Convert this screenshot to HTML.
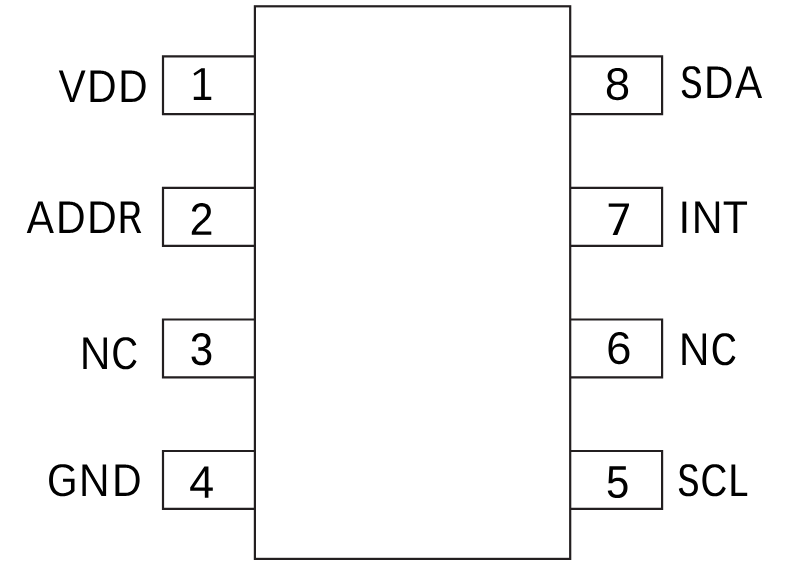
<!DOCTYPE html>
<html><head><meta charset="utf-8"><title>Pinout</title>
<style>
html,body{margin:0;padding:0;background:#fff;font-family:"Liberation Sans",sans-serif;}
svg{display:block;}
.ln *{fill:none;stroke:#231f20;stroke-width:2.2;stroke-linejoin:miter;}
.tx path{fill:#000;fill-rule:evenodd;}
.lbl text{font-family:"Liberation Sans",sans-serif;font-size:45.5px;fill:none;stroke:none;}
</style></head>
<body>
<svg width="788" height="566" viewBox="0 0 788 566">
<rect x="0" y="0" width="788" height="566" fill="#fff"/>
<g class="ln">
<rect x="254.9" y="6.3" width="315.30" height="552.60"/>
<path d="M254.9 56.3 H163.0 V114.20 H254.9"/>
<path d="M570.2 56.3 H662.1 V114.20 H570.2"/>
<path d="M254.9 187.9 H163.0 V245.80 H254.9"/>
<path d="M570.2 187.9 H662.1 V245.80 H570.2"/>
<path d="M254.9 319.5 H163.0 V377.40 H254.9"/>
<path d="M570.2 319.5 H662.1 V377.40 H570.2"/>
<path d="M254.9 451.0 H163.0 V508.90 H254.9"/>
<path d="M570.2 451.0 H662.1 V508.90 H570.2"/>
</g>
<g class="tx">
<path d="M74.14 101.9 85.5 70.6 81.59 70.6 73.84 92.89 72.17 98.45 70.5 92.89 62.71 70.6 58.8 70.6 70.16 101.9Z"/>
<path d="M100.97 101.9 101.97 101.87 102.94 101.78 103.88 101.63 104.79 101.41 105.67 101.14 106.52 100.8 106.93 100.61 107.73 100.18 108.51 99.69 109.24 99.15 109.92 98.56 110.25 98.24 110.57 97.91 111.17 97.2 111.72 96.45 112.23 95.63 112.7 94.77 113.12 93.85 113.49 92.9 113.8 91.9 114.07 90.87 114.18 90.34 114.36 89.25 114.5 88.12 114.58 86.95 114.6 85.96 114.59 85.19 114.54 84.3 114.47 83.43 114.36 82.6 114.22 81.79 114.06 81 113.86 80.25 113.64 79.52 113.38 78.81 113.09 78.14 112.78 77.49 112.43 76.86 112.05 76.26 111.64 75.69 111.21 75.15 110.74 74.63 110.24 74.14 109.72 73.69 109.17 73.26 108.6 72.87 108 72.51 107.38 72.18 106.73 71.88 106.06 71.61 105.36 71.37 104.64 71.17 103.89 70.99 103.11 70.85 102.31 70.74 101.49 70.66 100.64 70.62 99.76 70.6 90.5 70.6 90.5 101.9ZM94.3 73.68 99.68 73.68 100.35 73.69 100.99 73.73 101.62 73.79 102.22 73.88 102.81 73.98 103.37 74.12 103.92 74.27 104.45 74.45 104.95 74.66 105.44 74.89 105.9 75.14 106.35 75.42 106.78 75.72 107.18 76.05 107.57 76.4 107.94 76.77 108.28 77.17 108.6 77.59 108.9 78.03 109.18 78.49 109.44 78.98 109.67 79.48 109.89 80.01 110.07 80.56 110.24 81.13 110.39 81.73 110.51 82.34 110.61 82.98 110.69 83.64 110.78 85.02 110.79 86.1 110.77 87.06 110.67 88.44 110.47 89.75 110.2 90.99 109.83 92.15 109.69 92.52 109.37 93.24 109.03 93.92 108.84 94.24 108.44 94.85 108.01 95.43 107.55 95.95 107.3 96.2 107.05 96.44 106.52 96.89 106.24 97.09 105.65 97.47 105.05 97.81 104.42 98.1 103.76 98.33 103.09 98.52 102.39 98.67 101.66 98.76 101.29 98.79 100.53 98.82 94.3 98.82Z"/>
<path d="M132.04 101.9 133.03 101.87 134 101.78 134.93 101.63 135.84 101.41 136.71 101.14 137.56 100.8 137.97 100.61 138.77 100.18 139.54 99.69 140.26 99.15 140.61 98.86 141.27 98.24 141.89 97.56 142.18 97.2 142.73 96.45 143.24 95.63 143.7 94.77 144.12 93.85 144.49 92.9 144.81 91.9 144.94 91.39 145.18 90.34 145.36 89.25 145.49 88.12 145.57 86.95 145.6 85.96 145.58 85.19 145.54 84.3 145.46 83.43 145.36 82.6 145.22 81.79 145.06 81 144.86 80.25 144.64 79.52 144.38 78.81 144.1 78.14 143.78 77.49 143.44 76.86 143.06 76.26 142.66 75.69 142.22 75.15 141.76 74.63 141.26 74.14 140.74 73.69 140.2 73.26 139.63 72.87 139.04 72.51 138.42 72.18 137.77 71.88 137.1 71.61 136.41 71.37 135.69 71.17 134.94 70.99 134.17 70.85 133.38 70.74 132.55 70.66 131.71 70.62 130.84 70.6 121.6 70.6 121.6 101.9ZM132.04 73.73 132.66 73.79 133.26 73.88 133.84 73.98 134.41 74.12 134.95 74.27 135.47 74.45 135.98 74.66 136.46 74.89 136.92 75.14 137.37 75.42 137.79 75.72 138.2 76.05 138.58 76.4 138.94 76.77 139.29 77.17 139.61 77.59 139.91 78.03 140.18 78.49 140.44 78.98 140.67 79.48 140.88 80.01 141.07 80.56 141.24 81.13 141.38 81.73 141.5 82.34 141.6 82.98 141.68 83.64 141.74 84.32 141.77 85.02 141.78 86.1 141.76 87.06 141.7 87.99 141.61 88.89 141.47 89.75 141.19 90.99 140.83 92.15 140.69 92.52 140.38 93.24 140.21 93.58 139.85 94.24 139.65 94.55 139.24 95.14 139.02 95.43 138.56 95.95 138.06 96.44 137.8 96.67 137.53 96.89 136.97 97.29 136.38 97.65 136.07 97.81 135.76 97.96 135.12 98.22 134.46 98.44 134.12 98.52 133.42 98.67 132.7 98.76 132.34 98.79 131.58 98.82 125.4 98.82 125.4 73.68 130.73 73.68 131.39 73.69Z"/>
<path d="M47.18 224.68 50.06 232.9 53.85 232.9 42.57 201.6 38.21 201.6 26.75 232.9 30.6 232.9 33.5 224.68ZM38.66 209.89 39.53 207.24 40.33 204.48 40.34 204.5 40.34 204.48 41.1 207.06 41.59 208.63 46.07 221.46 45.95 221.46 46.07 221.82 34.62 221.82 34.75 221.46 34.62 221.46Z"/>
<path d="M70.91 232.87 71.88 232.78 72.83 232.63 73.29 232.53 74.18 232.28 75.05 231.98 75.89 231.61 76.7 231.18 77.48 230.69 78.21 230.15 78.9 229.56 79.23 229.24 79.85 228.56 80.43 227.83 80.7 227.45 81.22 226.63 81.69 225.77 82.11 224.85 82.48 223.9 82.8 222.9 83.06 221.87 83.18 221.34 83.36 220.25 83.49 219.12 83.57 217.95 83.6 216.96 83.58 216.19 83.54 215.3 83.46 214.43 83.36 213.6 83.22 212.79 83.05 212 82.86 211.25 82.63 210.52 82.37 209.81 82.08 209.14 81.76 208.49 81.42 207.86 81.04 207.26 80.63 206.69 80.19 206.15 79.72 205.63 79.22 205.14 78.7 204.69 78.15 204.26 77.57 203.87 76.97 203.51 76.35 203.18 75.7 202.88 75.02 202.61 74.32 202.37 73.59 202.17 72.84 201.99 72.06 201.85 71.25 201.74 70.42 201.66 69.57 201.62 68.69 201.6 59.4 201.6 59.4 232.9 69.91 232.9ZM63.2 204.68 69.29 204.69 69.94 204.73 70.57 204.79 71.18 204.88 71.76 204.98 72.33 205.12 72.88 205.27 73.41 205.45 73.92 205.66 74.41 205.89 74.87 206.14 75.32 206.42 75.75 206.72 76.16 207.05 76.55 207.4 76.92 207.77 77.26 208.17 77.59 208.59 77.89 209.03 78.17 209.49 78.43 209.98 78.66 210.48 78.87 211.01 79.06 211.56 79.23 212.13 79.38 212.73 79.5 213.34 79.6 213.98 79.68 214.64 79.74 215.32 79.77 216.02 79.78 217.59 79.74 218.53 79.66 219.44 79.54 220.32 79.38 221.17 79.07 222.38 78.67 223.52 78.52 223.89 78.19 224.58 77.83 225.24 77.43 225.85 77.21 226.14 76.76 226.69 76.28 227.2 76.02 227.44 75.49 227.89 75.21 228.09 74.92 228.29 74.32 228.65 74.01 228.81 73.38 229.1 73.06 229.22 72.39 229.44 71.7 229.6 70.98 229.72 70.61 229.76 69.86 229.81 69.48 229.82 63.2 229.82Z"/>
<path d="M102.01 232.87 102.98 232.78 103.93 232.63 104.84 232.41 105.28 232.28 106.15 231.98 106.99 231.61 107.8 231.18 108.58 230.69 109.31 230.15 110 229.56 110.33 229.24 110.95 228.56 111.53 227.83 112.07 227.05 112.32 226.63 112.79 225.77 113.21 224.85 113.58 223.9 113.9 222.9 114.16 221.87 114.38 220.8 114.53 219.69 114.59 219.12 114.67 217.95 114.7 216.96 114.68 216.19 114.64 215.3 114.56 214.43 114.46 213.6 114.32 212.79 114.15 212 113.96 211.25 113.73 210.52 113.47 209.81 113.18 209.14 112.86 208.49 112.52 207.86 112.14 207.26 111.73 206.69 111.29 206.15 110.82 205.63 110.32 205.14 109.8 204.69 109.25 204.26 108.67 203.87 108.07 203.51 107.45 203.18 106.8 202.88 106.12 202.61 105.42 202.37 104.69 202.17 103.94 201.99 103.16 201.85 102.35 201.74 101.52 201.66 100.67 201.62 99.79 201.6 90.5 201.6 90.5 232.9 101.01 232.9ZM94.3 204.68 100.39 204.69 101.04 204.73 101.67 204.79 102.28 204.88 102.86 204.98 103.43 205.12 103.98 205.27 104.51 205.45 105.02 205.66 105.51 205.89 105.97 206.14 106.42 206.42 106.85 206.72 107.26 207.05 107.65 207.4 108.02 207.77 108.36 208.17 108.69 208.59 108.99 209.03 109.27 209.49 109.53 209.98 109.76 210.48 109.97 211.01 110.16 211.56 110.33 212.13 110.48 212.73 110.6 213.34 110.7 213.98 110.78 214.64 110.84 215.32 110.87 216.02 110.88 217.59 110.84 218.53 110.76 219.44 110.64 220.32 110.48 221.17 110.17 222.38 109.77 223.52 109.62 223.89 109.29 224.58 108.93 225.24 108.53 225.85 108.09 226.43 107.86 226.69 107.63 226.95 107.12 227.44 106.59 227.89 106.31 228.09 106.02 228.29 105.42 228.65 105.11 228.81 104.48 229.1 104.16 229.22 103.49 229.44 102.8 229.6 102.44 229.67 101.71 229.76 100.96 229.81 100.58 229.82 94.3 229.82Z"/>
<path d="M137.16 232.9 141.3 232.9 134.46 218.43 134.61 218.38 134.46 218.07 135.04 217.88 135.32 217.77 135.59 217.64 136.11 217.35 136.35 217.19 136.82 216.83 137.04 216.64 137.45 216.21 137.84 215.73 138.02 215.48 138.35 214.93 138.5 214.64 138.64 214.35 138.89 213.73 139.1 213.09 139.33 212.05 139.47 210.94 139.51 209.95 139.49 209.15 139.45 208.69 139.33 207.81 139.24 207.38 139.03 206.58 138.75 205.83 138.42 205.13 138.02 204.48 137.57 203.88 137.06 203.35 136.51 202.88 135.91 202.49 135.28 202.17 134.61 201.92 133.89 201.74 133.13 201.64 132.33 201.6 120.7 201.6 120.7 232.9 124.53 232.9 124.53 218.63 130.98 218.63ZM131.82 204.7 132.27 204.76 132.91 204.93 133.49 205.19 134.02 205.54 134.5 205.99 134.78 206.33 134.91 206.52 135.03 206.71 135.24 207.13 135.4 207.59 135.59 208.35 135.69 209.19 135.71 210.16 135.66 211.11 135.54 211.99 135.33 212.78 135.14 213.27 134.92 213.72 134.79 213.93 134.51 214.33 134.19 214.68 134.02 214.84 133.66 215.13 133.27 215.36 132.85 215.55 132.63 215.63 132.17 215.75 131.67 215.82 131.15 215.84 124.53 215.84 124.53 204.68 131.34 204.68Z"/>
<path d="M86.51 341.94 86.69 342.26 86.67 341.94 102.34 368.9 106.95 368.9 106.95 337.6 103.54 337.6 103.55 358.26 103.61 360.59 103.79 364.38 103.77 364.35 103.79 364.74 103.61 364.42 103.63 364.74 87.79 337.6 83.35 337.6 83.35 368.9 86.71 368.9 86.71 348.23 86.61 344.47 86.51 342.3 86.52 342.33Z"/>
<path d="M117.18 354 117.18 352.2 117.25 350.81 117.39 349.49 117.49 348.86 117.61 348.26 117.89 347.1 118.25 346.02 118.46 345.51 118.68 345.02 118.92 344.54 119.18 344.09 119.46 343.66 119.75 343.25 120.06 342.87 120.38 342.51 120.72 342.18 121.07 341.88 121.44 341.6 121.82 341.35 122.21 341.12 122.62 340.93 123.04 340.75 123.48 340.61 123.93 340.49 124.39 340.4 124.87 340.33 125.37 340.29 125.75 340.28 126.69 340.37 127 340.42 127.59 340.56 128.15 340.74 128.7 340.97 128.96 341.1 129.22 341.24 129.72 341.56 130.2 341.93 130.43 342.12 130.86 342.55 131.25 343.02 131.44 343.27 131.78 343.79 132.1 344.36 132.51 345.29 132.74 345.96 133.14 345.8 133.19 345.96 136.28 344.66 135.86 343.58 135.46 342.73 135.02 341.93 134.53 341.2 133.99 340.53 133.42 339.91 132.8 339.36 132.47 339.11 131.78 338.64 131.06 338.24 130.29 337.9 129.89 337.75 129.06 337.51 128.19 337.32 127.28 337.2 126.33 337.14 125.39 337.13 124.69 337.14 124.01 337.2 123.35 337.28 122.71 337.4 122.08 337.55 121.48 337.73 120.9 337.95 120.33 338.2 119.79 338.49 119.26 338.8 118.75 339.16 118.26 339.54 117.8 339.96 117.35 340.41 116.92 340.9 116.51 341.42 116.12 341.97 115.75 342.54 115.42 343.14 115.1 343.77 114.81 344.42 114.55 345.1 114.31 345.8 114.1 346.53 113.91 347.28 113.75 348.06 113.61 348.87 113.5 349.7 113.41 350.56 113.35 351.44 113.31 352.35 113.3 353.55 113.35 354.77 113.44 355.95 113.57 357.09 113.75 358.18 113.98 359.23 114.25 360.24 114.56 361.21 114.92 362.13 115.11 362.57 115.53 363.42 116 364.21 116.5 364.95 117.04 365.63 117.62 366.26 118.25 366.84 118.91 367.36 119.61 367.83 120.35 368.23 121.11 368.57 121.91 368.85 122.32 368.97 123.16 369.16 124.04 369.28 124.94 369.34 126.31 369.34 127.2 369.27 128.06 369.14 128.9 368.94 129.7 368.67 130.48 368.34 131.23 367.94 131.59 367.72 132.3 367.22 132.98 366.65 133.61 366.03 134.21 365.34 134.77 364.59 135.29 363.78 135.53 363.36 135.99 362.46 136.5 361.28 133.86 359.59 133.76 359.82 133.41 359.59 133.07 360.39 132.71 361.14 132.33 361.83 131.94 362.47 131.52 363.07 131.08 363.61 130.62 364.09 130.14 364.53 129.64 364.92 129.12 365.25 128.57 365.53 128.01 365.77 127.43 365.95 126.83 366.07 126.21 366.15 125.51 366.16 125.02 366.12 124.55 366.05 124.09 365.96 123.64 365.83 123.2 365.68 122.78 365.5 122.37 365.29 121.97 365.06 121.58 364.79 121.21 364.5 120.86 364.19 120.51 363.84 120.18 363.47 119.86 363.07 119.56 362.64 119.27 362.19 119 361.72 118.74 361.23 118.51 360.73 118.3 360.2 118.1 359.66 117.76 358.53 117.5 357.32 117.4 356.7 117.32 356.05 117.2 354.7Z"/>
<path d="M49.1 480.55 49.12 481.16 49.2 482.36 49.32 483.52 49.5 484.63 49.72 485.7 49.99 486.74 50.32 487.73 50.69 488.68 50.9 489.14 51.34 490.01 51.58 490.43 52.09 491.22 52.64 491.96 53.24 492.64 53.88 493.27 54.22 493.57 54.93 494.12 55.68 494.61 56.47 495.04 57.3 495.41 57.72 495.58 58.6 495.86 59.52 496.07 60.47 496.23 60.96 496.28 61.96 496.34 63.13 496.34 64.44 496.26 65.71 496.08 66.95 495.8 67.76 495.56 68.94 495.12 70.07 494.58 71.15 493.95 72.15 493.25 72.78 492.74 73.67 491.9 74.5 490.98 74.5 478.69 63.05 478.69 63.05 481.7 70.98 481.7 70.98 489.72 70.62 490.11 70.03 490.66 69.37 491.17 68.9 491.48 68.15 491.9 67.33 492.28 66.48 492.6 65.89 492.78 65.3 492.92 64.69 493.04 63.76 493.16 63.12 493.21 62.62 493.22 62.12 493.21 61.57 493.17 61.04 493.1 60.52 493 60.02 492.88 59.54 492.73 59.07 492.56 58.61 492.35 58.17 492.12 57.75 491.87 57.34 491.58 56.95 491.27 56.57 490.93 56.21 490.56 55.87 490.17 55.54 489.75 55.22 489.31 54.93 488.84 54.66 488.36 54.41 487.86 54.17 487.33 53.96 486.79 53.77 486.23 53.6 485.65 53.45 485.05 53.32 484.42 53.21 483.78 53.05 482.44 52.96 481.02 52.95 480.28 52.96 479.18 53.04 477.76 53.19 476.43 53.3 475.79 53.56 474.58 53.72 474.01 53.9 473.46 54.1 472.93 54.32 472.42 54.56 471.93 54.82 471.46 55.09 471.02 55.39 470.59 55.7 470.19 56.03 469.82 56.37 469.47 56.74 469.14 57.12 468.84 57.51 468.57 57.93 468.33 58.36 468.11 58.81 467.91 59.27 467.74 59.75 467.6 60.25 467.49 60.77 467.39 61.3 467.33 61.85 467.29 62.35 467.28 63.3 467.32 64 467.38 64.67 467.48 65.32 467.61 65.95 467.78 66.56 467.98 67.14 468.21 67.71 468.47 68.25 468.78 68.76 469.12 69.49 469.72 69.95 470.16 70.39 470.65 70.8 471.18 71.19 471.75 71.33 471.66 71.39 471.75 74.35 469.93 73.85 469.11 73.36 468.45 72.83 467.83 72.26 467.26 71.64 466.74 70.98 466.27 70.63 466.05 69.91 465.64 69.14 465.29 68.33 464.98 67.47 464.72 66.57 464.51 66.1 464.42 65.13 464.28 64.11 464.18 63.06 464.13 61.54 464.14 60.79 464.19 60.06 464.28 59.35 464.39 58.66 464.54 58 464.72 57.36 464.94 56.74 465.18 56.14 465.46 55.56 465.78 55.01 466.12 54.48 466.5 53.97 466.92 53.48 467.36 53.01 467.84 52.57 468.35 52.15 468.89 51.75 469.46 51.39 470.06 51.05 470.68 50.74 471.33 50.45 472.01 50.2 472.71 49.96 473.45 49.76 474.21 49.59 474.99 49.44 475.81 49.31 476.65 49.22 477.51 49.15 478.41 49.11 479.33Z"/>
<path d="M85.6 468.94 85.8 469.27 85.78 468.94 101.49 495.9 106.1 495.9 106.1 464.6 102.7 464.6 102.7 485.26 102.76 487.59 102.95 491.38 102.92 491.35 102.95 491.74 102.75 491.4 102.77 491.74 86.9 464.6 82.45 464.6 82.45 495.9 85.81 495.9 85.81 475.23 85.71 471.47 85.6 469.3 85.62 469.33Z"/>
<path d="M125.97 495.9 126.97 495.87 127.94 495.78 128.41 495.71 129.34 495.53 130.23 495.28 131.09 494.98 131.93 494.61 132.73 494.18 133.51 493.69 134.24 493.15 134.59 492.86 135.25 492.24 135.87 491.56 136.17 491.2 136.72 490.45 137.23 489.63 137.7 488.77 138.12 487.85 138.49 486.9 138.8 485.9 139.07 484.87 139.18 484.34 139.36 483.25 139.5 482.12 139.58 480.95 139.6 479.96 139.59 479.19 139.54 478.3 139.47 477.43 139.36 476.6 139.22 475.79 139.06 475 138.86 474.25 138.64 473.52 138.38 472.81 138.09 472.14 137.78 471.49 137.43 470.86 137.05 470.26 136.64 469.69 136.21 469.15 135.74 468.63 135.24 468.14 134.72 467.69 134.17 467.26 133.6 466.87 133 466.51 132.38 466.18 131.73 465.88 131.06 465.61 130.36 465.37 129.64 465.17 128.89 464.99 128.11 464.85 127.31 464.74 126.49 464.66 125.64 464.62 124.76 464.6 115.5 464.6 115.5 495.9ZM119.3 467.68 124.68 467.68 125.35 467.69 125.99 467.73 126.62 467.79 127.22 467.88 127.81 467.98 128.37 468.12 128.92 468.27 129.45 468.45 129.95 468.66 130.44 468.89 130.9 469.14 131.35 469.42 131.78 469.72 132.18 470.05 132.57 470.4 132.94 470.77 133.28 471.17 133.6 471.59 133.9 472.03 134.18 472.49 134.44 472.98 134.67 473.48 134.89 474.01 135.07 474.56 135.24 475.13 135.39 475.73 135.51 476.34 135.61 476.98 135.69 477.64 135.78 479.02 135.79 480.1 135.77 481.06 135.67 482.44 135.47 483.75 135.2 484.99 134.83 486.15 134.69 486.52 134.37 487.24 134.03 487.92 133.65 488.55 133.23 489.14 133.01 489.43 132.78 489.69 132.3 490.2 131.79 490.67 131.52 490.89 131.24 491.09 130.65 491.47 130.05 491.81 129.42 492.1 128.76 492.33 128.09 492.52 127.39 492.67 127.03 492.72 126.29 492.79 125.53 492.82 119.3 492.82Z"/>
<path d="M681.82 91.28 682.06 92.19 682.36 93.04 682.71 93.83 683.11 94.55 683.56 95.21 684.07 95.8 684.63 96.34 685.24 96.81 685.91 97.22 686.63 97.56 687.41 97.85 688.23 98.07 689.11 98.22 690.05 98.32 691.03 98.35 692.38 98.34 693.4 98.26 693.9 98.2 694.83 98.01 695.28 97.89 695.71 97.75 696.52 97.41 696.91 97.21 697.28 97 697.63 96.76 697.97 96.51 698.29 96.24 698.6 95.95 698.89 95.64 699.16 95.31 699.42 94.97 699.65 94.62 700.06 93.86 700.24 93.46 700.54 92.62 700.66 92.17 700.77 91.71 700.92 90.73 700.96 90.23 701 89.27 700.97 88.48 700.89 87.71 700.78 87 700.62 86.35 700.43 85.74 700.2 85.17 699.94 84.65 699.57 84.05 699.33 83.72 699.07 83.41 698.8 83.12 698.42 82.77 698.01 82.45 697.48 82.08 697.03 81.8 696.46 81.49 695.75 81.15 694.89 80.81 691.52 79.68 690.05 79.14 689.15 78.76 688.8 78.58 688.39 78.32 688.03 78.06 687.61 77.67 687.25 77.25 687.02 76.91 686.76 76.41 686.62 76 686.51 75.55 686.44 75.07 686.41 74.55 686.41 73.71 686.46 73.13 686.54 72.58 686.67 72.07 686.85 71.6 686.95 71.38 687.19 70.97 687.48 70.6 687.81 70.27 688.18 69.97 688.59 69.72 689.04 69.5 689.52 69.32 690.05 69.19 690.62 69.09 691.46 69.02 692.21 69.08 692.74 69.17 693.23 69.29 693.9 69.54 694.31 69.76 694.69 70.01 695.03 70.29 695.34 70.62 695.63 70.99 695.89 71.4 696.12 71.86 696.42 72.62 696.58 73.19 696.72 73.79 697.48 73.6 697.52 73.79 700.41 73.07 700.14 72 699.86 71.15 699.55 70.37 699.2 69.67 698.81 69.04 698.39 68.48 697.92 67.99 697.68 67.78 697.15 67.39 696.57 67.06 696.26 66.91 695.59 66.65 695.24 66.54 694.49 66.36 694.09 66.29 693.26 66.19 692.37 66.13 690.6 66.14 690.11 66.16 689.18 66.27 688.32 66.44 687.9 66.55 687.12 66.82 686.75 66.99 686.4 67.17 685.74 67.58 685.13 68.06 684.85 68.33 684.34 68.91 684.11 69.22 683.7 69.89 683.36 70.61 683.09 71.4 682.98 71.81 682.89 72.24 682.75 73.14 682.68 74.1 682.68 74.48 682.7 75.11 682.81 76.11 682.99 77.04 683.26 77.89 683.6 78.67 684.01 79.39 684.3 79.78 684.5 80.03 684.73 80.28 685.09 80.64 685.8 81.21 686.45 81.63 687.21 82.05 687.88 82.36 688.64 82.67 689.49 82.99 693.35 84.27 693.79 84.44 694.35 84.7 694.98 85.05 695.55 85.44 695.85 85.7 696.04 85.89 696.38 86.3 696.6 86.63 696.79 86.99 696.89 87.25 697.03 87.68 697.13 88.14 697.19 88.65 697.22 89.19 697.22 89.74 697.2 90.41 697.17 90.73 697.07 91.34 697 91.62 696.83 92.17 696.72 92.43 696.47 92.91 696.33 93.13 696.01 93.55 695.83 93.75 695.44 94.1 695.22 94.26 694.77 94.55 694.52 94.68 694 94.91 693.44 95.08 693.14 95.16 692.52 95.27 692.19 95.31 691.55 95.35 690.61 95.27 689.71 95.1 689.15 94.93 688.63 94.72 688.15 94.47 687.7 94.18 687.29 93.85 687.1 93.66 686.74 93.26 686.42 92.8 686.28 92.56 686.01 92.04 685.78 91.47 685.67 91.16 685.5 90.52 685.35 89.83 684.59 90.05 684.55 89.83 681.7 90.64Z"/>
<path d="M717.84 97.9 718.83 97.87 719.8 97.78 720.73 97.63 721.64 97.41 722.51 97.14 723.36 96.8 724.17 96.4 724.57 96.18 725.34 95.69 726.06 95.15 726.41 94.86 727.07 94.24 727.69 93.56 728.26 92.83 728.79 92.05 729.04 91.63 729.5 90.77 729.92 89.85 730.29 88.9 730.61 87.9 730.87 86.87 730.98 86.34 731.16 85.25 731.29 84.12 731.37 82.95 731.4 81.96 731.38 81.19 731.34 80.3 731.26 79.43 731.16 78.6 731.02 77.79 730.86 77 730.66 76.25 730.44 75.52 730.18 74.81 729.9 74.14 729.58 73.49 729.24 72.86 728.86 72.26 728.46 71.69 728.02 71.15 727.56 70.63 727.06 70.14 726.54 69.69 726 69.26 725.43 68.87 724.84 68.51 724.22 68.18 723.57 67.88 722.9 67.61 722.21 67.37 721.49 67.17 720.74 66.99 719.97 66.85 719.18 66.74 718.35 66.66 717.51 66.62 716.64 66.6 707.4 66.6 707.4 97.9ZM717.84 69.73 718.46 69.79 719.06 69.88 719.64 69.98 720.21 70.12 720.75 70.27 721.27 70.45 721.78 70.66 722.26 70.89 722.72 71.14 723.17 71.42 723.59 71.72 724 72.05 724.38 72.4 724.74 72.77 725.09 73.17 725.41 73.59 725.71 74.03 725.98 74.49 726.24 74.98 726.47 75.48 726.68 76.01 726.87 76.56 727.04 77.13 727.18 77.73 727.3 78.34 727.4 78.98 727.48 79.64 727.54 80.32 727.57 81.02 727.58 82.1 727.56 83.06 727.5 83.99 727.41 84.89 727.27 85.75 726.99 86.99 726.63 88.15 726.49 88.52 726.18 89.24 726.01 89.58 725.65 90.24 725.25 90.85 725.04 91.14 724.59 91.69 724.36 91.95 723.86 92.44 723.6 92.67 723.33 92.89 722.77 93.29 722.47 93.47 721.87 93.81 721.56 93.96 720.92 94.22 720.26 94.44 719.57 94.6 719.22 94.67 718.5 94.76 718.14 94.79 717.38 94.82 711.2 94.82 711.2 69.68 716.53 69.68 717.19 69.69Z"/>
<path d="M758.31 97.9 762.1 97.9 750.92 66.6 746.56 66.6 735.2 97.9 739.05 97.9 741.92 89.68 755.45 89.68ZM747.04 74.89 747.99 71.94 748.69 69.51 749.43 72.06 749.92 73.63 754.36 86.46 754.23 86.46 754.36 86.82 743.04 86.82 743.16 86.46 743.04 86.46Z"/>
<path d="M682.45 232.9 686.25 232.9 686.25 201.6 682.45 201.6Z"/>
<path d="M698.4 205.94 698.63 206.33 698.62 205.94 714.48 232.9 719.1 232.9 719.1 201.6 715.7 201.6 715.7 222.26 715.76 224.59 715.95 228.38 715.93 228.35 715.95 228.74 715.71 228.35 715.73 228.74 699.7 201.6 695.25 201.6 695.25 232.9 698.61 232.9 698.61 212.23 698.5 208.47 698.4 206.3 698.42 206.33Z"/>
<path d="M737.26 204.75 747.05 204.75 747.05 201.6 723.7 201.6 723.7 204.75 733.49 204.75 733.49 232.9 737.26 232.9Z"/>
<path d="M685.56 337.94 685.74 338.26 685.72 337.94 701.39 364.9 706 364.9 706 333.6 702.59 333.6 702.6 354.26 702.66 356.59 702.84 360.38 702.82 360.35 702.84 360.74 702.66 360.42 702.68 360.74 686.84 333.6 682.4 333.6 682.4 364.9 685.76 364.9 685.76 344.23 685.66 340.47 685.56 338.3 685.57 338.33Z"/>
<path d="M716.57 348.93 716.6 347.49 716.64 346.81 716.78 345.49 716.88 344.86 717.12 343.67 717.27 343.1 717.62 342.02 717.82 341.51 718.04 341.02 718.28 340.54 718.53 340.09 718.8 339.66 719.08 339.25 719.38 338.87 719.7 338.51 720.03 338.18 720.37 337.88 720.72 337.6 721.09 337.35 721.48 337.12 721.87 336.93 722.29 336.75 722.71 336.61 723.15 336.49 723.61 336.4 724.07 336.33 724.83 336.28 725.75 336.37 726.04 336.42 726.62 336.56 727.17 336.74 727.7 336.97 727.96 337.1 728.46 337.4 728.7 337.56 729.16 337.93 729.6 338.33 729.8 338.55 730.19 339.02 730.54 339.52 731.01 340.36 731.41 341.29 731.64 341.96 732.11 341.76 732.18 341.96 735.18 340.66 734.78 339.58 734.39 338.73 733.95 337.93 733.48 337.2 732.96 336.53 732.4 335.91 731.79 335.36 731.14 334.87 730.45 334.43 729.73 334.06 729.35 333.9 728.56 333.62 727.73 333.41 726.87 333.25 726.42 333.2 725.49 333.14 724.48 333.13 723.8 333.14 723.13 333.2 722.49 333.28 721.86 333.4 721.26 333.55 720.67 333.73 720.1 333.95 719.55 334.2 719.02 334.49 718.51 334.8 718.01 335.16 717.54 335.54 717.08 335.96 716.64 336.41 716.22 336.9 715.82 337.42 715.45 337.97 715.09 338.54 714.76 339.14 714.46 339.77 714.18 340.42 713.92 341.1 713.69 341.8 713.48 342.53 713.3 343.28 713.14 344.06 713 344.87 712.89 345.7 712.81 346.56 712.75 347.44 712.71 348.35 712.7 349.55 712.75 350.77 712.83 351.95 712.97 353.09 713.14 354.18 713.36 355.23 713.62 356.24 713.93 357.21 714.28 358.13 714.47 358.57 714.88 359.42 715.33 360.21 715.82 360.95 716.34 361.63 716.91 362.26 717.52 362.84 718.17 363.36 718.85 363.83 719.56 364.23 720.31 364.57 721.08 364.85 721.89 365.07 722.73 365.23 723.16 365.28 724.04 365.34 725.48 365.34 726.34 365.27 727.18 365.14 727.99 364.94 728.78 364.67 729.53 364.34 730.26 363.94 730.62 363.72 731.31 363.22 731.97 362.65 732.59 362.03 733.17 361.34 733.71 360.59 734.22 359.78 734.68 358.91 735.12 357.98 735.4 357.28 732.83 355.59 732.71 355.87 732.29 355.59 731.96 356.39 731.61 357.14 731.24 357.83 730.86 358.47 730.45 359.07 730.02 359.61 729.57 360.09 729.1 360.53 728.62 360.92 728.11 361.25 727.58 361.53 727.03 361.77 726.47 361.95 725.88 362.07 725.28 362.15 724.7 362.16 724.22 362.12 723.76 362.05 723.31 361.96 722.87 361.83 722.44 361.68 722.03 361.5 721.63 361.29 721.24 361.06 720.87 360.79 720.51 360.5 720.16 360.19 719.82 359.84 719.5 359.47 719.19 359.07 718.89 358.64 718.61 358.19 718.35 357.72 718.1 357.23 717.87 356.73 717.67 356.2 717.47 355.66 717.15 354.53 716.89 353.32 716.79 352.7 716.65 351.38 716.6 350.7 716.57 350Z"/>
<path d="M678.92 489.28 679.16 490.19 679.45 491.04 679.79 491.83 680.19 492.55 680.64 493.21 681.14 493.8 681.69 494.34 682.3 494.81 682.96 495.22 683.67 495.56 684.43 495.85 685.25 496.07 686.12 496.22 687.04 496.32 688.01 496.35 689.39 496.34 690.4 496.26 690.89 496.2 691.36 496.11 692.25 495.89 692.68 495.75 693.48 495.41 693.86 495.21 694.57 494.76 694.91 494.51 695.23 494.24 695.82 493.64 696.09 493.31 696.34 492.97 696.57 492.62 696.98 491.86 697.15 491.46 697.45 490.62 697.57 490.17 697.67 489.71 697.82 488.73 697.86 488.23 697.9 487.27 697.87 486.48 697.8 485.71 697.68 485 697.52 484.35 697.33 483.74 697.11 483.17 696.86 482.65 696.49 482.05 696.17 481.61 695.91 481.31 695.64 481.03 695.35 480.77 694.95 480.45 694.42 480.08 693.99 479.8 693.42 479.49 692.72 479.15 691.86 478.81 688.54 477.68 687.09 477.14 686.21 476.76 685.86 476.58 685.45 476.32 685.1 476.06 684.69 475.67 684.41 475.36 684.1 474.91 683.85 474.41 683.7 474 683.6 473.55 683.53 473.07 683.5 472.55 683.5 471.71 683.54 471.13 683.63 470.58 683.76 470.07 683.84 469.83 684.03 469.38 684.27 468.97 684.55 468.6 684.88 468.27 685.24 467.97 685.65 467.72 686.09 467.5 686.57 467.32 687.09 467.19 687.65 467.09 688.46 467.02 689.18 467.08 689.69 467.17 690.18 467.29 690.63 467.45 691.05 467.65 691.62 468.01 691.96 468.29 692.27 468.62 692.55 468.99 692.81 469.4 693.04 469.86 693.24 470.36 693.49 471.19 693.62 471.79 694.43 471.59 694.47 471.79 697.32 471.07 697.05 470 696.78 469.15 696.47 468.37 696.12 467.67 695.74 467.04 695.32 466.48 694.86 465.99 694.62 465.78 694.1 465.39 693.53 465.06 692.9 464.77 692.21 464.54 691.85 464.44 691.08 464.29 690.67 464.23 690.26 464.19 689.38 464.13 687.58 464.14 687.1 464.16 686.19 464.27 685.75 464.34 684.92 464.55 684.53 464.68 683.79 464.99 683.11 465.37 682.48 465.81 682.19 466.06 681.91 466.33 681.41 466.91 681.18 467.22 680.78 467.89 680.44 468.61 680.17 469.4 680.06 469.81 679.9 470.68 679.8 471.61 679.77 472.1 679.76 472.48 679.79 473.11 679.89 474.11 680.08 475.04 680.34 475.89 680.68 476.67 681.08 477.39 681.36 477.78 681.57 478.03 681.79 478.28 682.15 478.64 682.7 479.1 683.48 479.63 684.23 480.05 684.9 480.36 685.65 480.67 686.49 480.99 690.3 482.27 690.88 482.5 691.29 482.7 691.91 483.05 692.47 483.44 692.87 483.79 693.13 484.09 693.29 484.3 693.5 484.63 693.69 484.99 693.8 485.25 693.93 485.68 694.03 486.14 694.09 486.65 694.12 487.19 694.12 487.74 694.1 488.41 694.07 488.73 693.97 489.34 693.9 489.62 693.73 490.17 693.63 490.43 693.38 490.91 693.24 491.13 692.93 491.55 692.75 491.75 692.36 492.1 691.93 492.41 691.7 492.55 691.46 492.68 690.94 492.91 690.67 493 690.09 493.16 689.79 493.22 689.16 493.31 688.54 493.35 687.65 493.27 686.75 493.1 686.2 492.93 685.69 492.72 685.21 492.47 684.77 492.18 684.37 491.85 684.18 491.66 683.83 491.26 683.51 490.8 683.37 490.56 683.1 490.04 682.87 489.47 682.68 488.85 682.45 487.83 681.65 488.06 681.61 487.83 678.8 488.64Z"/>
<path d="M706.27 479.93 706.3 478.49 706.35 477.81 706.41 477.14 706.59 475.86 706.85 474.67 707 474.1 707.36 473.02 707.57 472.51 707.8 472.02 708.04 471.54 708.3 471.09 708.58 470.66 708.88 470.25 709.19 469.87 709.52 469.51 709.86 469.18 710.21 468.88 710.58 468.6 710.96 468.35 711.36 468.12 711.77 467.93 712.2 467.75 712.64 467.61 713.1 467.49 713.57 467.4 714.05 467.33 714.9 467.28 715.62 467.33 716.24 467.42 716.54 467.48 717.12 467.64 717.41 467.74 717.96 467.97 718.23 468.1 718.74 468.4 719.24 468.74 719.47 468.93 719.92 469.33 720.34 469.78 720.54 470.02 720.72 470.27 721.07 470.79 721.39 471.36 721.81 472.29 722.04 472.96 722.41 472.81 722.46 472.96 725.57 471.66 725.16 470.58 724.75 469.73 724.3 468.93 724.06 468.56 723.54 467.86 722.98 467.21 722.38 466.63 721.73 466.11 721.03 465.64 720.67 465.43 719.92 465.06 719.52 464.9 718.71 464.62 717.85 464.41 716.95 464.25 716.01 464.16 715.53 464.14 714.62 464.13 713.91 464.14 713.22 464.2 712.55 464.28 711.9 464.4 711.27 464.55 710.66 464.73 710.07 464.95 709.5 465.2 708.95 465.49 708.42 465.8 707.91 466.16 707.42 466.54 706.94 466.96 706.49 467.41 706.05 467.9 705.64 468.42 705.25 468.97 704.88 469.54 704.54 470.14 704.22 470.77 703.93 471.42 703.66 472.1 703.42 472.8 703.21 473.53 703.02 474.28 702.85 475.06 702.71 475.87 702.6 476.7 702.51 477.56 702.45 478.44 702.41 479.35 702.4 480.55 702.45 481.77 702.54 482.95 702.68 484.09 702.76 484.64 702.97 485.71 703.21 486.74 703.51 487.73 703.67 488.21 704.04 489.13 704.44 490 704.89 490.82 705.37 491.58 705.9 492.29 706.47 492.95 707.08 493.56 707.73 494.11 708.42 494.6 709.14 495.04 709.9 495.41 710.69 495.72 711.51 495.97 711.93 496.07 712.8 496.23 713.7 496.32 714.16 496.34 715.05 496.35 715.96 496.32 716.84 496.22 717.7 496.05 718.53 495.82 719.33 495.52 719.72 495.34 720.47 494.94 721.2 494.47 721.9 493.94 722.56 493.35 723.19 492.69 723.77 491.97 724.32 491.2 724.82 490.36 725.29 489.46 725.8 488.28 723.13 486.59 723.04 486.8 722.72 486.59 722.38 487.39 722.01 488.14 721.63 488.83 721.23 489.47 720.8 490.07 720.36 490.61 719.9 491.09 719.41 491.53 718.9 491.92 718.38 492.25 717.83 492.53 717.27 492.77 716.68 492.95 716.07 493.07 715.44 493.15 714.7 493.16 714.21 493.12 713.73 493.05 713.26 492.96 712.8 492.83 712.36 492.68 711.93 492.5 711.52 492.29 711.12 492.06 710.73 491.79 710.36 491.5 709.99 491.19 709.65 490.84 709.31 490.47 708.99 490.07 708.68 489.64 708.39 489.19 708.12 488.72 707.86 488.23 707.63 487.73 707.41 487.2 707.03 486.11 706.73 484.94 706.61 484.32 706.42 483.05 706.35 482.38 706.28 481Z"/>
<path d="M731.45 495.9 747.2 495.9 747.2 492.75 735.25 492.75 735.25 464.6 731.45 464.6Z"/>
<path d="M206.92 212.02 206.87 212.71 206.76 213.38 206.6 214.01 206.38 214.62 206.1 215.2 205.77 215.76 205.41 216.31 204.87 217.03 204.42 217.56 203.94 218.09 202.71 219.29 201.76 220.15 200.12 221.54 199.08 222.46 197.82 223.62 196.98 224.44 195.96 225.53 195.17 226.45 194.2 227.67 193.66 228.45 193.14 229.27 192.66 230.14 192.21 231.05 191.8 232 191.8 234.85 211.3 234.85 211.3 231.42 196 231.42 196.25 230.87 196.46 230.47 196.94 229.67 197.53 228.85 197.86 228.43 198.4 227.8 199.46 226.68 200.44 225.73 201.26 224.98 203.38 223.12 204.71 221.91 205.85 220.85 207.06 219.64 207.93 218.67 208.63 217.77 209.23 216.87 209.74 215.97 210.06 215.3 210.33 214.62 210.54 213.95 210.69 213.27 210.79 212.59 210.83 212.14 210.84 211.65 210.8 210.65 210.69 209.71 210.61 209.27 210.51 208.83 210.25 208.01 209.91 207.25 209.71 206.89 209.5 206.55 209.02 205.9 208.46 205.31 207.83 204.79 207.14 204.34 206.77 204.14 206.38 203.96 205.56 203.64 204.67 203.4 204.21 203.3 203.23 203.16 202.71 203.12 201.64 203.08 200.58 203.12 200.1 203.16 199.19 203.3 198.74 203.4 197.89 203.64 197.49 203.79 196.71 204.13 196.33 204.33 195.62 204.78 195.28 205.03 194.64 205.59 194.35 205.88 193.8 206.51 193.33 207.18 193.12 207.54 192.74 208.28 192.58 208.68 192.44 209.08 192.2 209.92 192.1 210.36 191.97 211.27 191.97 211.3 195.87 211.68 195.95 211.07 196.08 210.5 196.25 209.96 196.46 209.45 196.71 208.99 196.99 208.55 197.32 208.15 197.69 207.79 198.09 207.46 198.52 207.18 198.97 206.94 199.45 206.75 199.96 206.6 200.49 206.49 201.05 206.42 201.88 206.41 202.47 206.45 203.04 206.54 203.56 206.67 204.05 206.85 204.51 207.07 204.93 207.34 205.32 207.65 205.68 208 205.99 208.39 206.25 208.82 206.47 209.28 206.65 209.78 206.78 210.32 206.87 210.89 206.92 211.5Z"/>
<path d="M191.5 356.78 191.57 357.33 191.76 358.32 192.01 359.24 192.16 359.67 192.51 360.5 192.71 360.89 192.92 361.26 193.4 361.95 193.67 362.28 194.25 362.88 194.56 363.15 195.23 363.65 195.59 363.88 196.34 364.28 197.15 364.62 198.01 364.88 198.93 365.08 199.41 365.16 200.41 365.26 201.46 365.29 202.21 365.28 203.31 365.21 203.83 365.15 204.82 364.96 205.3 364.84 206.19 364.54 206.61 364.37 207.02 364.17 207.41 363.96 207.78 363.73 208.13 363.48 208.47 363.21 208.79 362.92 209.1 362.61 209.38 362.3 209.65 361.96 209.89 361.61 210.12 361.24 210.32 360.86 210.51 360.47 210.67 360.06 210.95 359.19 211.06 358.73 211.21 357.77 211.29 356.75 211.3 356.22 211.29 355.81 211.24 355.1 211.13 354.41 211.05 354.08 210.86 353.44 210.74 353.14 210.46 352.55 210.3 352.27 209.94 351.72 209.74 351.47 209.29 350.97 209.05 350.75 208.8 350.53 208.27 350.14 207.69 349.79 207.39 349.64 206.75 349.37 206.06 349.15 205.7 349.06 205.33 348.98 204.55 348.86 204.55 348.81 205.25 348.62 205.92 348.4 206.54 348.14 206.83 347.99 207.39 347.67 207.65 347.5 207.9 347.32 208.36 346.93 208.79 346.49 209.17 346.03 209.34 345.78 209.65 345.26 209.92 344.7 210.03 344.41 210.13 344.11 210.3 343.48 210.42 342.82 210.49 342.13 210.51 341.39 210.5 340.88 210.47 340.41 210.36 339.52 210.28 339.09 210.06 338.27 209.76 337.51 209.39 336.8 209.18 336.47 208.94 336.15 208.42 335.55 207.83 335.01 207.51 334.76 207.18 334.53 206.47 334.12 205.69 333.78 205.28 333.63 204.42 333.39 203.97 333.3 203.02 333.16 202.52 333.12 201.48 333.08 200.82 333.09 199.88 333.16 199.43 333.22 198.99 333.29 198.14 333.5 197.74 333.62 196.96 333.92 196.22 334.29 195.87 334.51 195.53 334.73 194.89 335.24 194.29 335.8 194.02 336.1 193.53 336.75 193.1 337.44 192.91 337.81 192.58 338.59 192.44 338.99 192.21 339.85 192.04 340.75 191.99 341.23 191.99 341.26 195.64 341.57 195.65 341.56 195.82 341.57 195.9 340.97 196.02 340.41 196.27 339.63 196.48 339.15 196.61 338.93 196.88 338.5 197.03 338.3 197.19 338.11 197.55 337.75 197.93 337.44 198.35 337.16 198.56 337.04 199.02 336.83 199.51 336.66 200.02 336.53 200.85 336.42 201.59 336.41 201.9 336.42 202.51 336.49 202.79 336.54 203.33 336.68 203.83 336.86 204.29 337.09 204.5 337.22 204.7 337.36 205.08 337.68 205.25 337.85 205.57 338.23 205.84 338.65 205.96 338.87 206.07 339.09 206.26 339.57 206.34 339.82 206.47 340.35 206.58 341.2 206.59 342.09 206.54 342.69 206.5 342.98 206.37 343.53 206.28 343.79 206.08 344.28 205.96 344.52 205.82 344.74 205.51 345.17 205.15 345.56 204.74 345.92 204.52 346.08 204.04 346.37 203.79 346.5 203.25 346.72 202.67 346.9 202.37 346.97 201.72 347.09 201.39 347.13 200.68 347.17 198.33 347.18 198.33 350.67 200.39 350.67 201.21 350.69 201.98 350.76 202.35 350.81 202.7 350.87 203.37 351.03 203.99 351.23 204.29 351.35 204.83 351.61 205.33 351.93 205.56 352.1 205.77 352.28 206.17 352.68 206.34 352.89 206.65 353.33 206.9 353.81 207 354.07 207.1 354.33 207.24 354.88 207.32 355.46 207.35 356.07 207.32 356.76 207.25 357.43 207.19 357.74 207.05 358.34 206.85 358.89 206.73 359.15 206.61 359.4 206.31 359.86 205.97 360.28 205.78 360.47 205.58 360.65 205.15 360.97 204.69 361.25 204.44 361.37 204.18 361.48 203.64 361.67 203.36 361.75 202.77 361.86 202.13 361.93 201.8 361.95 200.97 361.93 200.34 361.87 199.75 361.76 199.2 361.61 198.68 361.41 198.2 361.17 197.75 360.89 197.35 360.57 196.98 360.2 196.65 359.79 196.35 359.33 196.09 358.83 195.87 358.29 195.69 357.71 195.54 357.08 195.43 356.41 195.26 356.42 195.26 356.41Z"/>
<path d="M208.44 490.72 212.8 490.72 212.8 487.54 208.44 487.54 208.44 466.5 204.41 466.5 190.2 487.58 190.2 490.72 204.83 490.72 204.83 497.8 208.44 497.8ZM204.69 471.04 204.69 471.33 204.83 471.04 204.83 487.54 193.74 487.54 194.07 487.13 195.26 485.48 203.25 473.62 203.94 472.46 204.47 471.47Z"/>
<path d="M628.1 91 628.07 90.24 628 89.52 627.87 88.83 627.68 88.17 627.45 87.54 627.16 86.95 626.82 86.39 626.43 85.86 625.99 85.37 625.51 84.93 624.99 84.54 624.43 84.2 623.83 83.9 623.18 83.66 622.49 83.46 621.76 83.32 621.76 83.26 622.39 83.11 622.69 83.02 622.98 82.91 623.54 82.67 624.07 82.38 624.32 82.22 624.56 82.04 625.02 81.66 625.44 81.23 625.64 81 625.83 80.75 626.18 80.24 626.34 79.98 626.62 79.44 626.74 79.16 626.95 78.58 627.11 77.99 627.18 77.68 627.27 77.05 627.32 76.4 627.31 75.58 627.28 75.14 627.15 74.28 626.94 73.48 626.81 73.09 626.65 72.72 626.47 72.35 626.27 72.01 626.05 71.67 625.55 71.03 625.27 70.73 624.64 70.16 623.94 69.65 623.18 69.21 622.36 68.83 621.47 68.53 620.53 68.29 619.53 68.12 618.46 68.02 617.9 67.99 616.95 67.99 615.88 68.06 614.87 68.2 613.91 68.41 613.01 68.69 612.58 68.85 611.77 69.23 611.01 69.68 610.31 70.2 609.99 70.49 609.4 71.08 608.9 71.72 608.48 72.4 608.15 73.13 608.01 73.51 607.8 74.29 607.73 74.7 607.64 75.55 607.63 76.03 607.66 76.69 607.73 77.33 607.84 77.94 607.92 78.25 608.1 78.83 608.21 79.12 608.47 79.67 608.77 80.2 609.11 80.71 609.5 81.19 609.71 81.41 609.92 81.62 610.37 82.01 610.61 82.19 611.12 82.51 611.38 82.66 611.94 82.92 612.53 83.13 613.15 83.31 613.15 83.36 612.48 83.5 612.16 83.59 611.54 83.8 611.24 83.93 610.66 84.22 610.38 84.38 610.11 84.56 609.6 84.95 609.35 85.17 608.88 85.64 608.44 86.16 608.25 86.43 608.06 86.71 607.73 87.29 607.46 87.9 607.34 88.22 607.15 88.88 607.01 89.57 606.93 90.29 606.91 90.66 606.91 91.61 606.94 92.13 607 92.64 607.08 93.13 607.18 93.61 607.3 94.07 607.44 94.52 607.61 94.95 607.8 95.36 608.01 95.76 608.24 96.14 608.5 96.51 608.77 96.86 609.07 97.19 609.39 97.51 609.74 97.82 610.1 98.11 610.48 98.38 610.88 98.63 611.29 98.86 611.72 99.07 612.17 99.27 612.64 99.44 613.62 99.74 614.14 99.86 615.22 100.05 615.79 100.11 616.98 100.18 618.06 100.18 619.27 100.11 619.85 100.04 620.96 99.85 621.98 99.59 622.47 99.43 622.94 99.25 623.38 99.05 623.81 98.83 624.22 98.6 624.61 98.34 624.99 98.07 625.34 97.77 625.68 97.47 625.99 97.14 626.28 96.8 626.55 96.45 626.8 96.08 627.02 95.69 627.23 95.29 627.41 94.88 627.57 94.45 627.71 94.01 627.83 93.55 627.93 93.07 628 92.58 628.09 91.56ZM616.67 97.14 615.92 97.06 615.22 96.94 614.58 96.76 613.98 96.54 613.44 96.26 612.95 95.93 612.51 95.55 612.13 95.12 611.79 94.64 611.51 94.11 611.27 93.53 611.09 92.9 610.96 92.22 610.89 91.49 610.87 90.4 610.92 89.74 610.97 89.43 611.1 88.83 611.29 88.26 611.53 87.74 611.82 87.25 612.17 86.79 612.57 86.38 612.79 86.19 613.26 85.84 613.77 85.54 614.33 85.29 614.92 85.1 615.56 84.95 616.24 84.85 616.96 84.8 617.9 84.8 618.64 84.84 619.33 84.94 619.99 85.08 620.3 85.16 620.88 85.37 621.43 85.62 621.93 85.92 622.38 86.27 622.79 86.66 623.14 87.1 623.44 87.58 623.68 88.1 623.87 88.67 624.01 89.29 624.09 89.95 624.12 90.64 624.09 91.44 624.02 92.21 623.89 92.92 623.72 93.57 623.49 94.17 623.36 94.44 623.06 94.95 622.89 95.18 622.71 95.4 622.31 95.79 621.86 96.13 621.35 96.43 620.79 96.67 620.19 96.87 619.86 96.95 619.17 97.07 618.81 97.11 618.05 97.16 617.47 97.17ZM617.04 81.76 616.38 81.72 615.76 81.63 615.19 81.5 614.65 81.32 614.39 81.21 614.15 81.1 613.69 80.83 613.27 80.53 612.89 80.17 612.72 79.98 612.41 79.57 612.15 79.12 611.93 78.63 611.77 78.1 611.7 77.82 611.6 77.22 611.56 76.59 611.57 75.65 611.64 75.06 611.7 74.77 611.83 74.23 612.02 73.74 612.25 73.28 612.53 72.87 612.85 72.49 613.22 72.16 613.63 71.87 614.09 71.62 614.58 71.41 615.12 71.24 615.7 71.12 616.32 71.04 616.99 71 618.22 71.01 618.88 71.07 619.49 71.18 620.06 71.32 620.58 71.51 621.06 71.74 621.49 72.01 621.88 72.32 622.22 72.67 622.52 73.06 622.77 73.5 622.97 73.97 623.13 74.49 623.25 75.05 623.32 75.65 623.34 76.28 623.31 76.96 623.25 77.61 623.19 77.92 623.05 78.5 622.97 78.77 622.76 79.27 622.51 79.72 622.36 79.92 622.04 80.3 621.86 80.47 621.47 80.77 621.03 81.03 620.56 81.26 620.31 81.35 619.77 81.52 619.19 81.64 618.24 81.74Z"/>
<path d="M629.4 353.49 629.36 352.37 629.31 351.84 629.15 350.81 629.04 350.32 628.76 349.38 628.59 348.93 628.4 348.5 628.19 348.08 627.96 347.68 627.71 347.29 627.44 346.91 627.15 346.55 626.84 346.21 626.52 345.88 626.18 345.57 625.82 345.29 625.46 345.02 625.07 344.78 624.68 344.56 624.27 344.36 623.84 344.18 623.4 344.02 622.95 343.88 622 343.67 621 343.54 620.01 343.5 619.18 343.54 618.28 343.65 617.71 343.76 616.87 344 616.34 344.2 615.57 344.56 614.86 344.98 614.42 345.31 614.01 345.66 613.44 346.25 612.94 346.91 612.49 347.63 612.5 347.3 612.31 347.63 612.34 346.2 612.37 345.5 612.49 344.17 612.67 342.93 612.9 341.77 613.04 341.23 613.37 340.21 613.55 339.74 613.96 338.85 614.19 338.44 614.69 337.69 614.95 337.36 615.23 337.05 615.52 336.76 615.82 336.5 616.14 336.26 616.47 336.05 616.8 335.87 617.15 335.7 617.52 335.57 617.89 335.46 618.28 335.37 618.68 335.31 619.09 335.27 619.7 335.26 620.19 335.27 620.66 335.32 621.1 335.39 621.52 335.49 621.92 335.63 622.3 335.79 622.66 335.99 622.99 336.21 623.31 336.46 623.6 336.75 623.87 337.06 624.11 337.4 624.34 337.78 624.54 338.18 624.72 338.61 624.87 339.04 628.53 338.39 628.28 337.58 627.98 336.86 627.65 336.19 627.27 335.57 626.86 334.99 626.4 334.47 625.9 334 625.36 333.58 624.78 333.2 624.16 332.88 623.49 332.61 622.79 332.38 622.04 332.21 621.26 332.08 620.43 332.01 619.65 331.99 619.08 332 618.44 332.05 617.81 332.14 617.2 332.26 616.61 332.41 616.05 332.6 615.5 332.82 614.97 333.07 614.46 333.36 613.96 333.68 613.49 334.04 613.04 334.43 612.61 334.86 612.19 335.31 611.8 335.81 611.42 336.33 611.07 336.89 610.74 337.48 610.43 338.1 610.14 338.74 609.88 339.42 609.64 340.13 609.42 340.86 609.23 341.63 609.06 342.42 608.91 343.24 608.79 344.1 608.68 344.98 608.6 345.89 608.55 346.83 608.51 347.8 608.5 348.84 608.54 350.66 608.6 351.52 608.68 352.36 608.77 353.18 608.9 353.96 609.04 354.72 609.2 355.44 609.39 356.15 609.6 356.82 609.83 357.46 610.08 358.08 610.36 358.67 610.65 359.23 610.97 359.76 611.31 360.27 611.67 360.74 612.05 361.19 612.45 361.6 612.87 361.98 613.31 362.34 613.77 362.66 614.25 362.95 614.75 363.21 615.27 363.44 615.8 363.64 616.36 363.81 616.94 363.95 617.53 364.06 618.15 364.13 618.78 364.18 619.35 364.19 620.4 364.15 620.96 364.09 621.49 364.01 622.02 363.91 622.52 363.79 623.01 363.65 623.49 363.48 623.94 363.29 624.39 363.08 624.81 362.84 625.22 362.58 625.62 362.3 625.99 362 626.35 361.68 626.7 361.33 627.03 360.97 627.33 360.58 627.62 360.18 627.88 359.77 628.12 359.34 628.35 358.89 628.55 358.43 628.72 357.95 628.88 357.45 629.02 356.94 629.23 355.86 629.31 355.3 629.39 354.13ZM618.76 360.93 618.09 360.86 617.45 360.72 616.85 360.5 616.27 360.21 615.73 359.85 615.21 359.42 614.73 358.92 614.29 358.34 613.89 357.72 613.56 357.07 613.28 356.37 613.05 355.63 612.88 354.84 612.77 354.02 612.71 353.16 612.71 352.73 612.73 352.05 612.82 351.39 612.95 350.77 613.14 350.19 613.38 349.65 613.68 349.14 614.03 348.68 614.44 348.25 614.89 347.87 615.37 347.54 615.89 347.26 616.44 347.03 617.02 346.85 617.64 346.72 618.29 346.64 619.17 346.62 619.89 346.65 620.58 346.73 621.22 346.88 621.83 347.08 622.39 347.34 622.91 347.65 623.39 348.03 623.83 348.46 624.22 348.94 624.56 349.48 624.85 350.06 625.09 350.69 625.27 351.37 625.4 352.1 625.48 352.87 625.5 353.68 625.48 354.49 625.4 355.27 625.27 356.01 625.09 356.7 624.86 357.34 624.58 357.94 624.24 358.49 623.85 359 623.42 359.46 622.95 359.85 622.44 360.19 621.89 360.46 621.3 360.67 620.67 360.82 620.01 360.91 619.3 360.94Z"/>
<path d="M607.7 490.63 607.79 491.11 608.01 491.96 608.14 492.36 608.44 493.13 608.61 493.5 609 494.19 609.44 494.83 609.94 495.41 610.49 495.94 611.1 496.42 611.43 496.63 612.11 497.02 612.47 497.19 613.23 497.49 614.03 497.73 614.45 497.83 615.33 497.97 616.25 498.06 617.22 498.09 617.98 498.08 619.1 497.99 619.64 497.92 620.16 497.82 620.66 497.69 621.15 497.55 621.63 497.38 622.08 497.2 622.52 496.98 622.95 496.75 623.35 496.5 623.74 496.22 624.12 495.92 624.48 495.6 624.82 495.25 625.15 494.89 625.45 494.51 625.73 494.11 625.99 493.7 626.23 493.27 626.45 492.83 626.65 492.36 626.83 491.89 626.99 491.39 627.12 490.88 627.24 490.35 627.41 489.25 627.49 488.07 627.5 487.43 627.46 486.37 627.34 485.36 627.15 484.4 626.88 483.49 626.52 482.64 626.1 481.83 625.85 481.45 625.31 480.72 624.69 480.05 624.35 479.74 624.01 479.45 623.65 479.19 623.28 478.95 622.89 478.73 622.49 478.52 622.08 478.34 621.65 478.19 620.76 477.93 620.3 477.84 619.33 477.71 618.3 477.67 617.27 477.7 616.44 477.79 615.65 477.95 615.27 478.05 614.54 478.3 613.84 478.61 613.18 478.99 612.86 479.2 612.43 479.52 612.97 469.78 625.84 469.78 625.84 466.35 609.48 466.35 608.53 483.2 612.26 483.2 612.74 482.77 613.21 482.39 613.69 482.05 614.17 481.77 614.65 481.54 615.13 481.35 615.62 481.2 616.3 481.06 616.83 480.99 617.19 480.97 617.73 480.97 618.07 480.99 618.72 481.08 619.34 481.22 619.64 481.31 620.2 481.54 620.72 481.82 621.21 482.16 621.44 482.36 621.67 482.56 622.08 483.01 622.45 483.5 622.76 484.03 623.02 484.59 623.13 484.88 623.31 485.5 623.44 486.15 623.52 486.83 623.54 487.19 623.54 487.94 623.52 488.35 623.44 489.13 623.31 489.86 623.23 490.21 623.02 490.88 622.76 491.5 622.45 492.08 622.09 492.61 621.89 492.86 621.46 493.31 621.22 493.52 620.73 493.88 620.47 494.04 619.91 494.31 619.62 494.43 619.01 494.61 618.36 494.73 617.66 494.79 616.89 494.78 616.34 494.73 615.81 494.64 615.32 494.51 614.85 494.35 614.41 494.15 613.99 493.91 613.61 493.64 613.25 493.33 612.93 492.99 612.63 492.61 612.35 492.19 612.11 491.74 611.9 491.25 611.71 490.72 611.55 490.16 611.38 490.18 611.38 490.16Z"/>
<path d="M201.4 68.2 L204.85 68.2 L204.85 96.7 L211.25 96.7 L211.25 99.9 L193.8 99.9 L193.8 96.7 L201.15 96.7 L201.15 71.6 L194.6 75.7 L193.5 73.5 Z"/>
<path d="M608.7 203.45 H629.0 V205.5 L617.35 234.9 H612.6 L624.95 206.75 H608.7 Z"/>

</g>
<g class="lbl">
<text x="59" y="102">VDD</text><text x="27" y="233">ADDR</text><text x="83" y="369">NC</text><text x="49" y="496">GND</text>
<text x="194" y="100">1</text><text x="192" y="235">2</text><text x="192" y="365">3</text><text x="190" y="498">4</text>
<text x="607" y="100">8</text><text x="608" y="235">7</text><text x="608" y="364">6</text><text x="608" y="498">5</text>
<text x="682" y="98">SDA</text><text x="682" y="233">INT</text><text x="682" y="365">NC</text><text x="679" y="496">SCL</text>
</g>
</svg>
</body></html>
